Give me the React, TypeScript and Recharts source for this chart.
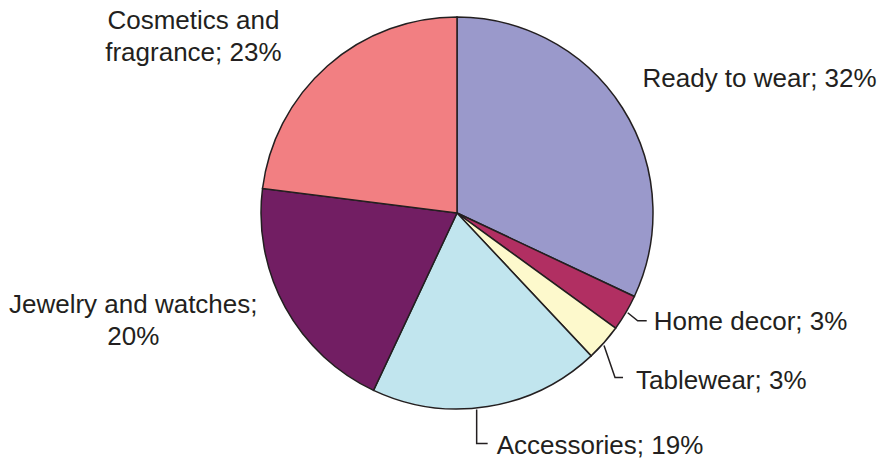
import React from "react";
import { PieChart, Pie, Cell } from "recharts";

const categories = [
	"Ready to wear",
	"Home decor",
	"Tablewear",
	"Accessories",
	"Jewelry and watches",
	"Cosmetics and fragrance",
];
const shares = [32, 3, 3, 19, 20, 23];
const colors = ["#9a99cb", "#b12f62", "#fdf9cc", "#c1e5ee", "#721e63", "#f27f82"];

const data = categories.map((name, i) => ({ name, value: shares[i] }));

const INK = "#231f20";

// where each label sits, relative to the point on the rim at the slice's mid angle
type LabelLayout = {
	dx: number;
	dy: number;
	anchor: "start" | "middle" | "end";
	wrap?: string; // split text after this prefix
	leader?: [number, number][];
};

const layouts: LabelLayout[] = [
	{ dx: 20, dy: -21, anchor: "start" },
	{ dx: 28, dy: 17, anchor: "start", leader: [[2, 0], [12, 8], [21, 8]] },
	{ dx: 32, dy: 46, anchor: "start", leader: [[0, 3], [11, 35], [19, 35]] },
	{ dx: 9, dy: 47, anchor: "start", leader: [[-11, 3], [-11, 37], [0, 37]] },
	{ dx: -152, dy: 6, anchor: "middle", wrap: "Jewelry and watches;" },
	{ dx: -134, dy: -37, anchor: "middle", wrap: "Cosmetics and" },
];

const RADIAN = Math.PI / 180;

const renderLabel = (props: any) => {
	const { cx, cy, midAngle, outerRadius, index } = props;
	const lay = layouts[index];
	const ex = cx + outerRadius * Math.cos(-midAngle * RADIAN);
	const ey = cy + outerRadius * Math.sin(-midAngle * RADIAN);
	const text = `${data[index].name}; ${data[index].value}%`;
	const lines = lay.wrap
		? [lay.wrap, text.slice(lay.wrap.length).trim()]
		: [text];
	return (
		<g key={`lbl-${index}`}>
			{lay.leader && (
				<polyline
					points={lay.leader.map(([x, y]) => `${ex + x},${ey + y}`).join(" ")}
					fill="none"
					stroke={INK}
					strokeWidth={1.5}
				/>
			)}
			<text
				x={ex + lay.dx}
				y={ey + lay.dy}
				textAnchor={lay.anchor}
				fill={INK}
				fontSize={26}
				fontFamily="'Liberation Sans', Arial, sans-serif"
			>
				{lines.map((l, i) => (
					<tspan key={i} x={ex + lay.dx} dy={i === 0 ? 0 : 32}>
						{l}
					</tspan>
				))}
			</text>
		</g>
	);
};

const App = () => {
	return (
		<div style={{ position: "absolute", left: 0, top: 0, background: "#fff" }}>
			<PieChart width={885} height={460} margin={{ top: 0, right: 0, bottom: 0, left: 0 }}>
				<Pie
					data={data}
					dataKey="value"
					nameKey="name"
					cx={457}
					cy={213}
					outerRadius={196}
					startAngle={90}
					endAngle={-270}
					stroke={INK}
					strokeWidth={1.5}
					label={renderLabel}
					labelLine={false}
					isAnimationActive={false}
				>
					{data.map((d, i) => (
						<Cell key={d.name} fill={colors[i]} />
					))}
				</Pie>
			</PieChart>
		</div>
	);
};

export default App;
